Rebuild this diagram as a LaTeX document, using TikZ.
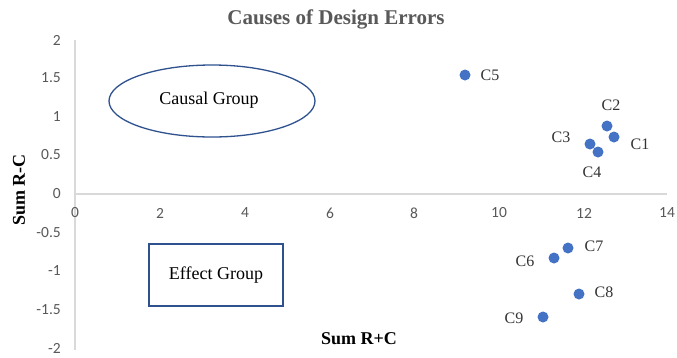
\documentclass[tikz,border=0pt]{standalone}
\usepackage{fontspec}
\usetikzlibrary{shapes.geometric}
\setmainfont{Liberation Serif}
\newfontfamily\tickfont{Carlito}
\definecolor{axisgray}{HTML}{D9D9D9}
\definecolor{textgray}{HTML}{595959}
\definecolor{dotblue}{HTML}{4472C4}
\definecolor{shapeblue}{HTML}{2F528F}
\begin{document}
\begin{tikzpicture}[x=1pt,y=-1pt,
  ytick/.style={anchor=east,font=\tickfont\fontsize{15.5}{16}\selectfont,text=textgray,inner sep=0pt},
  xtick/.style={anchor=center,font=\tickfont\fontsize{15.5}{16}\selectfont,text=textgray,inner sep=0pt},
  dot/.style={circle,fill=dotblue,inner sep=0pt,minimum size=11pt},
  dlabel/.style={font=\fontsize{16}{17}\selectfont,text=black!80,inner sep=0pt},
  grp/.style={draw=shapeblue,line width=1.3pt,font=\fontsize{18}{19}\selectfont}
]
\useasboundingbox (0,0) rectangle (677,357);
\fill[white] (0,0) rectangle (677,357);
% axes
\coordinate (ytop) at (75,40);
\coordinate (ybot) at (75,350);
\coordinate (xl) at (75,194);
\coordinate (xr) at (667,194);
\draw[axisgray,line width=1.5pt] (ytop) -- (ybot);
\draw[axisgray,line width=1.5pt] (xl) -- (xr);
% y ticks
\node[ytick] (y1) at (61,40) {2};
\node[ytick] (y2) at (61,78) {1.5};
\node[ytick] (y3) at (61,117) {1};
\node[ytick] (y4) at (61,155) {0.5};
\node[ytick] (y5) at (61,194) {0};
\node[ytick] (y6) at (61,233) {-0.5};
\node[ytick] (y7) at (61,271) {-1};
\node[ytick] (y8) at (61,310) {-1.5};
\node[ytick] (y9) at (61,348) {-2};
% x ticks
\node[xtick] (x0) at (75,213) {0};
\node[xtick] (x2) at (160,213) {2};
\node[xtick] (x4) at (245,213) {4};
\node[xtick] (x6) at (330,213) {6};
\node[xtick] (x8) at (414,213) {8};
\node[xtick] (x10) at (499,213) {10};
\node[xtick] (x12) at (584,213) {12};
\node[xtick] (x14) at (667,213) {14};
% titles
\node[font=\bfseries\fontsize{21}{22}\selectfont,text=textgray] (title) at (336,19) {Causes of Design Errors};
\node[font=\bfseries\fontsize{18}{19}\selectfont] (xt) at (359,339) {Sum R+C};
\node[font=\bfseries\fontsize{18}{19}\selectfont,rotate=90] (yt) at (19,190) {Sum R-C};
% groups
\node[grp,ellipse,minimum width=206pt,minimum height=72pt,inner sep=0pt] (causal) at (212,101) {};
\node[font=\fontsize{18}{19}\selectfont] (causalt) at (209,100) {Causal Group};
\node[grp,rectangle,minimum width=134pt,minimum height=62pt,inner sep=0pt] (effect) at (216,275) {Effect Group};
% points
\node[dot] (c5) at (465,75) {};
\node[dot] (c2) at (607,126) {};
\node[dot] (c1) at (614,137) {};
\node[dot] (c3) at (590,144) {};
\node[dot] (c4) at (598,152) {};
\node[dot] (c7) at (568,248) {};
\node[dot] (c6) at (554,258) {};
\node[dot] (c8) at (579,294) {};
\node[dot] (c9) at (543,317) {};
\node[dlabel] (l5) at (490,75) {C5};
\node[dlabel] (l2) at (611,105) {C2};
\node[dlabel] (l1) at (640,144) {C1};
\node[dlabel] (l3) at (561,137) {C3};
\node[dlabel] (l4) at (592,172) {C4};
\node[dlabel] (l7) at (594,246) {C7};
\node[dlabel] (l6) at (525,261) {C6};
\node[dlabel] (l8) at (604,292) {C8};
\node[dlabel] (l9) at (514,318) {C9};
\end{tikzpicture}
\end{document}
